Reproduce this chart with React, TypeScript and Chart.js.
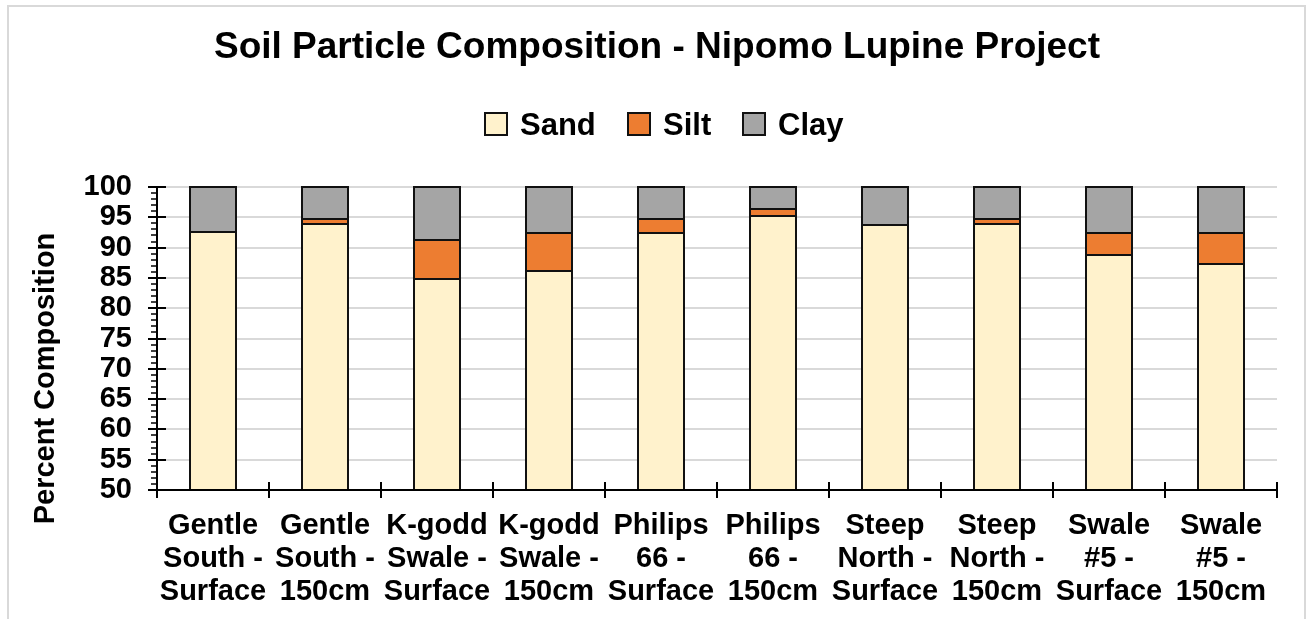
import { useEffect, useRef } from "react";
import { Chart, registerables } from "chart.js";

Chart.register(...registerables);

const categories: string[][] = [
  ["Gentle", "South -", "Surface"],
  ["Gentle", "South -", "150cm"],
  ["K-godd", "Swale -", "Surface"],
  ["K-godd", "Swale -", "150cm"],
  ["Philips", "66 -", "Surface"],
  ["Philips", "66 -", "150cm"],
  ["Steep", "North -", "Surface"],
  ["Steep", "North -", "150cm"],
  ["Swale", "#5 -", "Surface"],
  ["Swale", "#5 -", "150cm"],
];

const sand = [92.5, 93.9, 84.9, 86.1, 92.4, 95.2, 93.8, 93.9, 88.8, 87.3];
const silt = [0, 0.9, 6.3, 6.3, 2.4, 1.1, 0, 0.9, 3.6, 5.1];
const clay = [7.5, 5.2, 8.8, 7.6, 5.2, 3.7, 6.2, 5.2, 7.6, 7.6];

const seriesNames = ["Sand", "Silt", "Clay"];
const seriesColors = ["#FFF2CC", "#ED7D31", "#A5A5A5"];

const yMin = 50;
const yMax = 100;
const yStep = 5;

const FONT = "'Liberation Sans', Arial, Helvetica, sans-serif";
const EDGE = "#111111";

const outlinePlugin = {
  id: "outline",
  afterDatasetsDraw(chart: any) {
    const { ctx, chartArea } = chart;
    ctx.save();
    ctx.strokeStyle = EDGE;
    ctx.lineWidth = 2;
    chart.data.datasets.forEach((_: any, di: number) => {
      const meta = chart.getDatasetMeta(di);
      meta.data.forEach((el: any) => {
        const p = el.getProps(["x", "y", "base", "width"], true);
        const clampY = (v: number) => Math.min(chartArea.bottom, Math.max(chartArea.top, v));
        const l = Math.round(p.x - p.width / 2);
        const r = Math.round(p.x + p.width / 2);
        const t = Math.round(clampY(Math.min(p.y, p.base)));
        const b = Math.round(clampY(Math.max(p.y, p.base)));
        if (b - t < 0.5) return;
        ctx.strokeRect(l, t, r - l, b - t);
      });
    });
    ctx.restore();
  },
};

const decorPlugin = {
  id: "decor",
  afterDraw(chart: any) {
    const { ctx, chartArea, scales } = chart;
    const x = scales.x;
    const y = scales.y;
    ctx.save();
    ctx.strokeStyle = "#000";
    for (let v = yMin; v <= yMax; v += 1) {
      const major = v % yStep === 0;
      const py = Math.round(y.getPixelForValue(v));
      ctx.lineWidth = major ? 2 : 1.5;
      ctx.beginPath();
      ctx.moveTo(chartArea.left - (major ? 9 : 6), py);
      ctx.lineTo(chartArea.left + (major ? 9 : 0), py);
      ctx.stroke();
    }
    ctx.lineWidth = 2;
    for (let i = 0; i <= categories.length; i++) {
      const px = Math.round(x.getPixelForValue(i - 0.5));
      ctx.beginPath();
      ctx.moveTo(px, chartArea.bottom - 8);
      ctx.lineTo(px, chartArea.bottom + 8);
      ctx.stroke();
    }
    ctx.beginPath();
    ctx.moveTo(chartArea.left - 9, Math.round(chartArea.bottom));
    ctx.lineTo(chartArea.right, Math.round(chartArea.bottom));
    ctx.stroke();
    ctx.fillStyle = "#000";
    ctx.font = `bold 29px ${FONT}`;
    ctx.textAlign = "center";
    ctx.textBaseline = "middle";
    ctx.translate(46, (chartArea.top + chartArea.bottom) / 2 + 40);
    ctx.rotate(-Math.PI / 2);
    ctx.fillText("Percent Composition", 0, 0);
    ctx.restore();

    ctx.save();
    ctx.font = `bold 31px ${FONT}`;
    ctx.textBaseline = "middle";
    ctx.textAlign = "left";
    const box = 24;
    const gap = 12;
    const spacing = 31;
    const widths = seriesNames.map((n) => box + gap + ctx.measureText(n).width);
    const total = widths.reduce((a, b) => a + b, 0) + spacing * (seriesNames.length - 1);
    let cx = Math.round(chart.width / 2 + 10 - total / 2);
    const cy = 124;
    seriesNames.forEach((n, i) => {
      ctx.fillStyle = seriesColors[i];
      ctx.fillRect(cx, cy - box / 2, box, box);
      ctx.strokeStyle = EDGE;
      ctx.lineWidth = 2;
      ctx.strokeRect(cx + 1, cy - box / 2 + 1, box - 2, box - 2);
      ctx.fillStyle = "#000";
      ctx.fillText(n, cx + box + gap, cy + 2);
      cx = Math.round(cx + widths[i] + spacing);
    });
    ctx.restore();
  },
};

export default function App() {
  const ref = useRef<HTMLCanvasElement | null>(null);

  useEffect(() => {
    document.body.style.overflow = "hidden";
    const canvas = ref.current;
    if (!canvas) return;
    const mk = (i: number, data: number[]) => ({
      label: seriesNames[i],
      data,
      backgroundColor: seriesColors[i],
      borderColor: EDGE,
      borderWidth: 0,
      inflateAmount: 0.5,
      barPercentage: 46 / 112,
      categoryPercentage: 1,
    });
    const chart = new Chart(canvas, {
      type: "bar",
      data: {
        labels: categories,
        datasets: [mk(0, sand), mk(1, silt), mk(2, clay)],
      },
      options: {
        animation: false,
        responsive: true,
        maintainAspectRatio: false,
        layout: { padding: { top: 0, left: 37, right: 30, bottom: 0 } },
        plugins: {
          legend: { display: false },
          tooltip: { enabled: false },
          title: {
            display: true,
            text: "Soil Particle Composition - Nipomo Lupine Project",
            color: "#000",
            font: { family: FONT, size: 37, weight: "bold", lineHeight: 1.2 },
            padding: { top: 26, bottom: 116.6 },
          },
        },
        scales: {
          x: {
            stacked: true,
            grid: { display: true, color: "rgba(0,0,0,0)", drawTicks: false, offset: true },
            border: { display: true, color: "#000", width: 2 },
            ticks: {
              color: "#000",
              font: { family: FONT, size: 29, weight: "bold", lineHeight: 1.14 },
              padding: 19,
              maxRotation: 0,
              autoSkip: false,
            },
            afterFit: (s: any) => {
              s.height = 129;
            },
          },
          y: {
            stacked: true,
            min: yMin,
            max: yMax,
            ticks: {
              stepSize: yStep,
              autoSkip: false,
              color: "#000",
              font: { family: FONT, size: 29, weight: "bold", lineHeight: 1 },
              padding: 25,
            },
            grid: {
              drawTicks: false,
              lineWidth: 2,
              color: (c: any) => (c.tick && c.tick.value === yMin ? "rgba(0,0,0,0)" : "#d9d9d9"),
            },
            border: { display: true, color: "#000", width: 2 },
            afterFit: (s: any) => {
              s.width = 120;
            },
          },
        },
      },
      plugins: [outlinePlugin, decorPlugin],
    });
    return () => chart.destroy();
  }, []);

  return (
    <div>
      <div
        style={{
          position: "fixed",
          left: 7,
          top: 5,
          width: 1299,
          height: 614,
          boxSizing: "border-box",
          borderTop: "2px solid #d9d9d9",
          borderLeft: "2px solid #d9d9d9",
          borderRight: "2px solid #d9d9d9",
        }}
      />
      <div style={{ position: "fixed", left: 0, top: 0, width: 1307, height: 619 }}>
        <canvas ref={ref} />
      </div>
    </div>
  );
}
